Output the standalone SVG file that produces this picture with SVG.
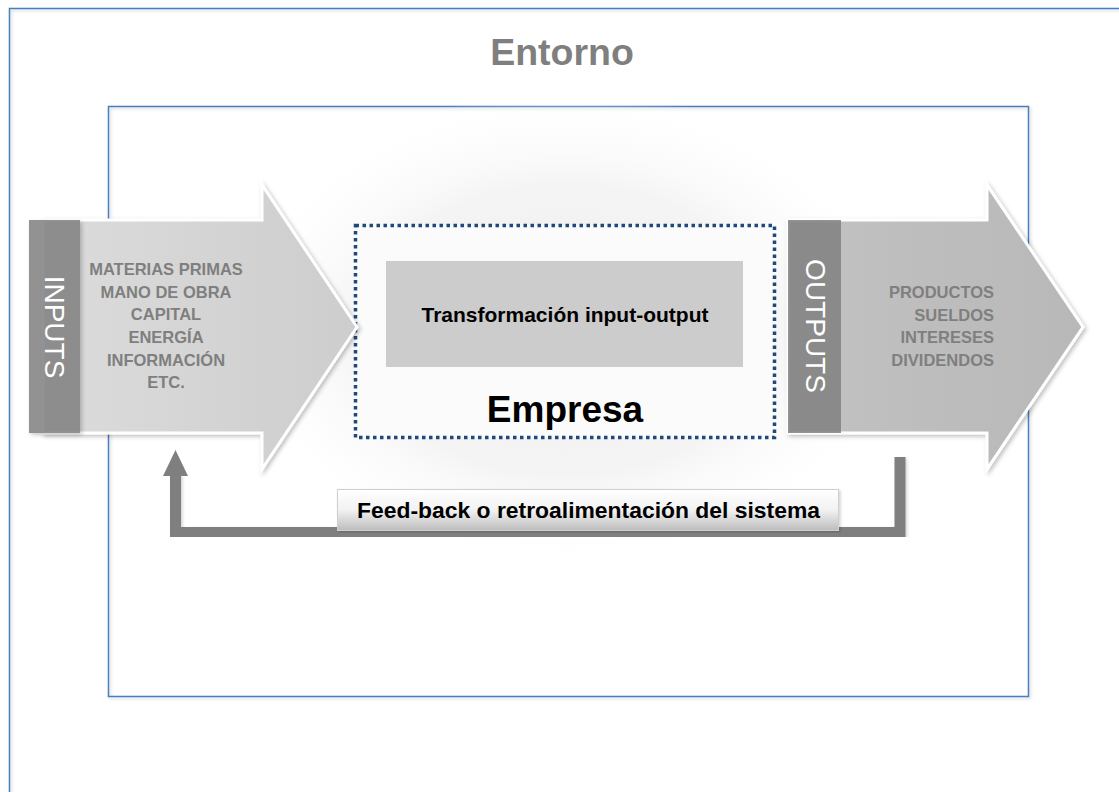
<svg xmlns="http://www.w3.org/2000/svg" width="1119" height="792" viewBox="0 0 1119 792">
<defs>
<style>
.frame{fill:none;stroke:#4a7ebb;stroke-width:1.5}
.lst{font-family:"Liberation Sans",Arial,sans-serif;font-weight:bold;font-size:16.5px;fill:#7f7f7f}
.band{font-family:"Liberation Sans",Arial,sans-serif;font-size:28px;fill:#ffffff}
.fb{fill:none;stroke:#7f7f7f;stroke-width:11}
</style>
<filter id="sh" x="-10%" y="-10%" width="130%" height="130%">
<feDropShadow dx="2" dy="2" stdDeviation="2" flood-color="#000" flood-opacity="0.25"/>
</filter>
<filter id="shs" x="-5%" y="-5%" width="110%" height="110%">
<feDropShadow dx="1.5" dy="1.5" stdDeviation="1.5" flood-color="#000" flood-opacity="0.18"/>
</filter>
<radialGradient id="glow" cx="0.5" cy="0.5" r="0.5">
<stop offset="0" stop-color="#eeeeee"/>
<stop offset="0.6" stop-color="#f4f4f4"/>
<stop offset="1" stop-color="#ffffff" stop-opacity="0"/>
</radialGradient>
<linearGradient id="gin" x1="0" y1="0" x2="1" y2="0">
<stop offset="0" stop-color="#dcdcdc"/>
<stop offset="1" stop-color="#cdcdcd"/>
</linearGradient>
<linearGradient id="gout" x1="0" y1="0" x2="1" y2="0">
<stop offset="0" stop-color="#c2c2c2"/>
<stop offset="1" stop-color="#b8b8b8"/>
</linearGradient>
<linearGradient id="gfb" x1="0" y1="0" x2="0" y2="1">
<stop offset="0" stop-color="#ffffff"/>
<stop offset="0.5" stop-color="#f2f2f2"/>
<stop offset="1" stop-color="#bdbdbd"/>
</linearGradient>
</defs>
<rect width="1119" height="792" fill="#ffffff"/>
<g id="entorno">
<rect class="frame" x="9.5" y="8.5" width="1200" height="900" filter="url(#shs)"/>
<text x="562" y="65" text-anchor="middle" font-family="Liberation Sans,Arial,sans-serif" font-weight="bold" font-size="37.5" fill="#7f7f7f">Entorno</text>
</g>
<g id="sistema">
<rect class="frame" x="108.5" y="106.5" width="920" height="590" fill="#ffffff" filter="url(#shs)"/>
<ellipse cx="565" cy="330" rx="340" ry="240" fill="url(#glow)"/>
</g>
<g id="empresa">
<rect x="355.5" y="225.5" width="419" height="212" fill="#fbfbfb" stroke="#1f497d" stroke-width="3.5" stroke-dasharray="3.5 3.5"/>
<rect x="386" y="261" width="357" height="106" fill="#cccccc"/>
<text x="565" y="322" text-anchor="middle" font-family="Liberation Sans,Arial,sans-serif" font-weight="bold" font-size="21" fill="#000000">Transformación input-output</text>
<text x="565" y="422" text-anchor="middle" font-family="Liberation Sans,Arial,sans-serif" font-weight="bold" font-size="37" fill="#000000">Empresa</text>
</g>
<g id="inputs">
<polygon points="43,220 262,220 262,185 357,327 262,469 262,433 43,433" fill="url(#gin)" stroke="#ffffff" stroke-width="3" filter="url(#sh)"/>
<rect x="29" y="220" width="51" height="213" fill="#808080" opacity="0.85" filter="url(#sh)"/>
<text class="band" transform="translate(54,327) rotate(90)" text-anchor="middle" dominant-baseline="central">INPUTS</text>
<g class="lst" text-anchor="middle">
<text x="166" y="275">MATERIAS PRIMAS</text>
<text x="166" y="298">MANO DE OBRA</text>
<text x="166" y="320">CAPITAL</text>
<text x="166" y="343">ENERGÍA</text>
<text x="166" y="366">INFORMACIÓN</text>
<text x="166" y="388">ETC.</text>
</g>
</g>
<g id="outputs">
<polygon points="788,220 987,220 987,185 1083,327 987,469 987,433 788,433" fill="url(#gout)" stroke="#ffffff" stroke-width="3" filter="url(#sh)"/>
<rect x="788" y="220" width="53" height="213" fill="#808080" opacity="0.85"/>
<text class="band" transform="translate(815,326) rotate(90)" text-anchor="middle" dominant-baseline="central">OUTPUTS</text>
<g class="lst" text-anchor="end">
<text x="994" y="298">PRODUCTOS</text>
<text x="994" y="321">SUELDOS</text>
<text x="994" y="343">INTERESES</text>
<text x="994" y="366">DIVIDENDOS</text>
</g>
</g>
<g id="connectors">
<path class="fb" d="M900,457 V532.5 H175.5 V474" filter="url(#shs)"/>
<polygon points="163,476 175.5,450 188,476" fill="#7f7f7f"/>
</g>
<g id="feedback">
<rect x="337.5" y="489.5" width="501" height="41" fill="url(#gfb)" stroke="#d0d0d0" stroke-width="1" filter="url(#shs)"/>
<text x="588.5" y="518" text-anchor="middle" font-family="Liberation Sans,Arial,sans-serif" font-weight="bold" font-size="22" textLength="463" lengthAdjust="spacingAndGlyphs" fill="#000000">Feed-back o retroalimentación del sistema</text>
</g>
</svg>
